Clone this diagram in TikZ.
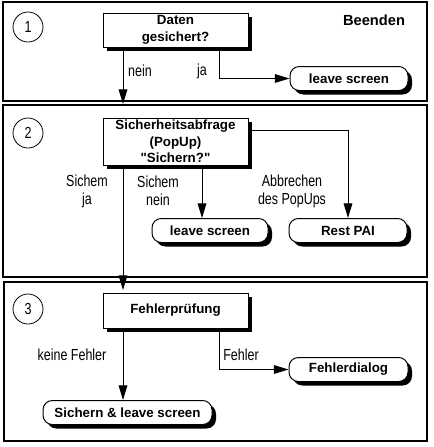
\documentclass[tikz,border=0pt]{standalone}
\usepackage{fontspec}
\setmainfont{Liberation Sans}
\newfontfamily\boxfont{Liberation Sans}
\newfontfamily\lblfont{Liberation Sans}[FakeStretch=0.78]
\usetikzlibrary{arrows.meta,shadows}
\tikzset{
	panel/.style={draw, line width=1pt},
	stepbox/.style={draw, fill=white, line width=0.75pt, inner sep=0pt, align=center,
		drop shadow={shadow xshift=3pt, shadow yshift=-3pt, fill=black, opacity=1},
		font=\boxfont\bfseries\fontsize{10}{12.4}\selectfont},
	endbox/.style={stepbox, rounded corners=7pt, minimum height=18pt},
	lbl/.style={font=\lblfont\fontsize{12}{13.5}\selectfont, align=center},
	num/.style={draw, circle, minimum size=22.5pt, inner sep=0pt, line width=0.6pt,
		font=\lblfont\fontsize{12}{13}\selectfont},
	arr/.style={-{Triangle[length=11pt,width=6.5pt]}, line width=0.75pt},
}
\begin{document}
\begin{tikzpicture}[x=0.75pt, y=-0.75pt]
	\useasboundingbox (0,0) rectangle (433,447);
	% panels
	\draw[panel] (3,2) rectangle (427,101);
	\draw[panel] (3,105) rectangle (427,277);
	\draw[panel] (4,282) rectangle (427,441);
	\node[num] (n1) at (28,27) {1};
	\node[num] (n2) at (28,133) {2};
	\node[num] (n3) at (28,309) {3};
	\node[font=\boxfont\bfseries\fontsize{11}{13}\selectfont] (title) at (374,20) {Beenden};
	% panel 1
	\node[stepbox, minimum width=108.75pt, minimum height=25.5pt] (daten) at (175.5,30) {Daten\\gesichert?};
	\node[endbox, minimum width=88.5pt] (leave1) at (349,78.5) {leave screen};
	\node[lbl] (neinlbl) at (140,71) {nein};
	\node[lbl] (jalbl) at (202,71) {ja};
	% panel 2
	\node[stepbox, minimum width=108.75pt, minimum height=35.25pt] (sicher) at (175.5,141.5) {Sicherheitsabfrage\\(PopUp)\\"Sichern?"};
	\node[endbox, minimum width=87pt] (leave2) at (210,230.5) {leave screen};
	\node[endbox, minimum width=88.5pt] (rest) at (348,230.5) {Rest PAI};
	\node[lbl] (jalbl2) at (87,191) {Sichem\\ja};
	\node[lbl] (neinlbl2) at (158,191) {Sichem\\nein};
	\node[lbl] (abbrlbl) at (292,191) {Abbrechen\\des PopUps};
	% panel 3
	\node[stepbox, minimum width=108.75pt, minimum height=26.25pt] (pruef) at (175.5,310.5) {Fehlerprüfung};
	\node[endbox, minimum width=126.75pt] (sleave) at (127.5,412.5) {Sichern \& leave screen};
	\node[endbox, minimum width=89.25pt] (dialog) at (348.5,369.5) {Fehlerdialog};
	\node[lbl] (keinlbl) at (72,355) {keine Fehler};
	\node[lbl] (fehllbl) at (241,355) {Fehler};
	% connectors
	\coordinate (in2) at (123,104);
	\coordinate (in3) at (123,290);
	\coordinate (jax) at (219,75);
	\coordinate (neinx) at (202,0);
	\coordinate (abby) at (0,130);
	\draw[arr] (daten.south -| in2) -- (in2);
	\draw[arr] (daten.south -| jax) |- (leave1.west);
	\draw[arr] (sicher.south -| in3) -- (in3);
	\draw[arr] (sicher.south -| neinx) -- (leave2.north -| neinx);
	\draw[arr] (sicher.east |- abby) -| (rest.north);
	\draw[arr] (pruef.south -| in3) -- (sleave.north -| in3);
	\draw[arr] (pruef.south -| jax) |- (dialog.west);
\end{tikzpicture}
\end{document}
